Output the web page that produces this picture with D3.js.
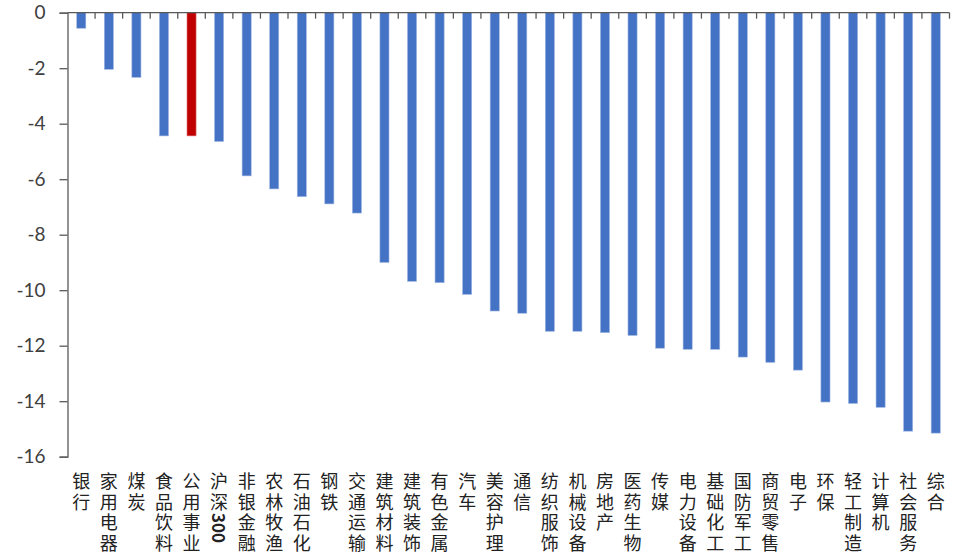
<!DOCTYPE html>
<html>
<head>
<meta charset="utf-8">
<script src="https://cdn.jsdelivr.net/npm/d3@7"></script>
<style>
  html, body { margin: 0; padding: 0; background: #fff; }
  svg { display: block; }
</style>
</head>
<body>
<svg id="chart" width="960" height="559"></svg>
<script>
// Sector returns (%), sorted from smallest to largest decline
const categories = ["银行","家用电器","煤炭","食品饮料","公用事业","沪深300","非银金融","农林牧渔","石油石化","钢铁",
  "交通运输","建筑材料","建筑装饰","有色金属","汽车","美容护理","通信","纺织服饰","机械设备","房地产",
  "医药生物","传媒","电力设备","基础化工","国防军工","商贸零售","电子","环保","轻工制造","计算机","社会服务","综合"];
const values = [-0.56,-2.04,-2.33,-4.44,-4.44,-4.64,-5.88,-6.35,-6.63,-6.89,
  -7.22,-9.00,-9.68,-9.73,-10.15,-10.75,-10.83,-11.48,-11.48,-11.53,
  -11.63,-12.09,-12.13,-12.13,-12.41,-12.60,-12.88,-14.03,-14.08,-14.22,-15.08,-15.15];
const highlighted = ["公用事业"];
const yTicks = [0,-2,-4,-6,-8,-10,-12,-14,-16];

const svg = d3.select("#chart");
const plotLeft = 67.5, plotRight = 949.5, plotTop = 12.7, plotBottom = 456.7;

const x = d3.scaleBand().domain(categories).range([plotLeft, plotRight])
  .paddingInner(0.67).paddingOuter(0.335);
const y = d3.scaleLinear().domain([-16, 0]).range([plotBottom, plotTop]);

const axisColor = "#595959";

// Bars
svg.append("g").selectAll("rect").data(categories).join("rect")
  .attr("x", d => x(d))
  .attr("width", x.bandwidth())
  .attr("y", y(0))
  .attr("height", (d, i) => y(values[i]) - y(0))
  .attr("fill", d => highlighted.includes(d) ? "#C00000" : "#4472C4")
  .attr("stroke", d => highlighted.includes(d) ? "#e08080" : "#9fb6e2")
  .attr("stroke-width", 0.6);

// Value axis
const yAxis = svg.append("g")
  .attr("transform", `translate(${plotLeft},0)`)
  .call(d3.axisLeft(y).tickValues(yTicks).tickSize(8).tickPadding(14).tickFormat(d3.format("d")));
yAxis.select(".domain").attr("stroke", axisColor).attr("stroke-width", 1.3);
yAxis.selectAll(".tick line").attr("stroke", axisColor).attr("stroke-width", 1.3);
yAxis.selectAll(".tick text")
  .attr("fill", "#404040")
  .style("font-family", "Lato, 'Open Sans', sans-serif")
  .style("font-size", "19px")
  .text(d => String(d));

// Category axis along zero, with tick marks between categories
const step = x.step();
const boundaries = categories.map(d => x(d) + x.bandwidth() + (step - x.bandwidth()) / 2);
const xAxis = svg.append("g");
xAxis.append("line")
  .attr("x1", plotLeft).attr("x2", plotRight)
  .attr("y1", y(0)).attr("y2", y(0))
  .attr("stroke", axisColor).attr("stroke-width", 1.3);
xAxis.selectAll("line.tk").data(boundaries).join("line")
  .attr("class", "tk")
  .attr("x1", d => d).attr("x2", d => d)
  .attr("y1", y(0)).attr("y2", y(0) + 6)
  .attr("stroke", axisColor).attr("stroke-width", 1.3);

// Vertical category labels: characters stacked top to bottom, digits sideways
const catLabels = svg.append("g").selectAll("text").data(categories).join("text")
  .attr("x", d => x(d) + x.bandwidth() / 2)
  .attr("y", 472)
  .attr("text-anchor", "start")
  .style("writing-mode", "vertical-rl")
  .style("text-orientation", "mixed")
  .style("letter-spacing", "2.7px")
  .style("font-family", "'Noto Sans CJK SC', sans-serif")
  .style("font-size", "18px")
  .attr("fill", "#222");
catLabels.each(function(d) {
  const m = d.match(/^(.*?)(\d+)$/);
  const t = d3.select(this);
  if (!m) { t.text(d); return; }
  t.append("tspan").text(m[1]);
  t.append("tspan")
    .style("letter-spacing", "0px")
    .style("font-weight", "bold")
    .style("font-size", "17px")
    .text(m[2]);
});
</script>
</body>
</html>
